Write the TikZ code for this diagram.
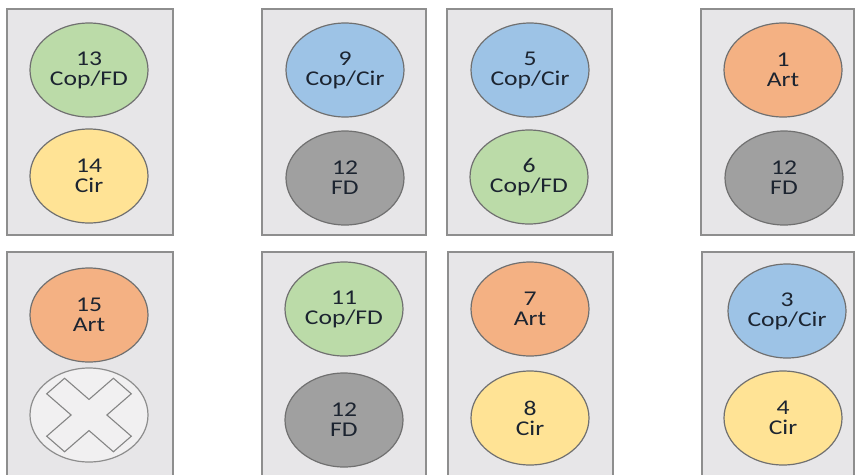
\documentclass[tikz,border=0pt]{standalone}
\usepackage{fontspec}
\newfontfamily\lblfont[FakeStretch=1.22]{Carlito}
\usetikzlibrary{shapes.geometric}
\definecolor{boxfill}{HTML}{E7E6E8}
\definecolor{boxline}{HTML}{8E8E8E}
\definecolor{cgreen}{HTML}{BBDBA8}
\definecolor{cyellow}{HTML}{FFE395}
\definecolor{cblue}{HTML}{9DC3E6}
\definecolor{corange}{HTML}{F4B183}
\definecolor{cgray}{HTML}{A0A0A0}
\definecolor{eline}{HTML}{707070}
\definecolor{txt}{HTML}{1C2430}
\tikzset{
  panel/.style={fill=boxfill, draw=boxline, line width=1.5pt},
  blob/.style={ellipse, draw=eline, line width=1.2pt, minimum width=118pt, minimum height=94pt, inner sep=0pt,
    align=center, text=txt, font=\lblfont\fontsize{21}{20}\selectfont},
  gr/.style={blob, fill=cgreen},
  ye/.style={blob, fill=cyellow},
  bl/.style={blob, fill=cblue},
  og/.style={blob, fill=corange},
  gy/.style={blob, fill=cgray},
  empty/.style={blob, fill=boxfill!60!white, draw=eline!80},
  crossline/.style={draw=eline!85, line width=1.1pt, line join=miter}
}
\begin{document}
\begin{tikzpicture}[x=1pt,y=-1pt]
\useasboundingbox (0,0) rectangle (856,474);
\clip (0,0) rectangle (856,474);
\fill[white] (0,0) rectangle (856,474);
% panels top row
\draw[panel] (7,9) rectangle (173,235);
\draw[panel] (262,9) rectangle (426,235);
\draw[panel] (447,9) rectangle (612,235);
\draw[panel] (701,9) rectangle (854,235);
% panels bottom row
\draw[panel] (7,252) rectangle (173,490);
\draw[panel] (262,252) rectangle (426,490);
\draw[panel] (448,252) rectangle (613,490);
\draw[panel] (702,252) rectangle (854,490);
% top row
\node[gr] (n13) at (89,70) {13\\Cop/FD};
\node[ye] (n14) at (89,176) {14\\Cir};
\node[bl] (n9) at (345,70) {9\\Cop/Cir};
\node[gy] (n12a) at (345,178) {12\\FD};
\node[bl] (n5) at (530,70) {5\\Cop/Cir};
\node[gr] (n6) at (529,177) {6\\Cop/FD};
\node[og] (n1) at (783,70) {1\\Art};
\node[gy] (n12b) at (784,178) {12\\FD};
% bottom row
\node[og] (n15) at (89,315) {15\\Art};
\node[empty] (nx) at (89,415) {};
\node[gr] (n11) at (344,309) {11\\Cop/FD};
\node[gy] (n12c) at (344,420) {12\\FD};
\node[og] (n7) at (530,309) {7\\Art};
\node[ye] (n8) at (530,418) {8\\Cir};
\node[bl] (n3) at (787,311) {3\\Cop/Cir};
\node[ye] (n4) at (783,418) {4\\Cir};
% cross
\begin{scope}[shift={(nx.center)}, xscale=1.15, rotate=45]
\draw[crossline] (11,11) -- (41,11) -- (41,-11) -- (11,-11) -- (11,-41) -- (-11,-41) -- (-11,-11)
  -- (-41,-11) -- (-41,11) -- (-11,11) -- (-11,41) -- (11,41) -- cycle;
\end{scope}
\end{tikzpicture}
\end{document}
